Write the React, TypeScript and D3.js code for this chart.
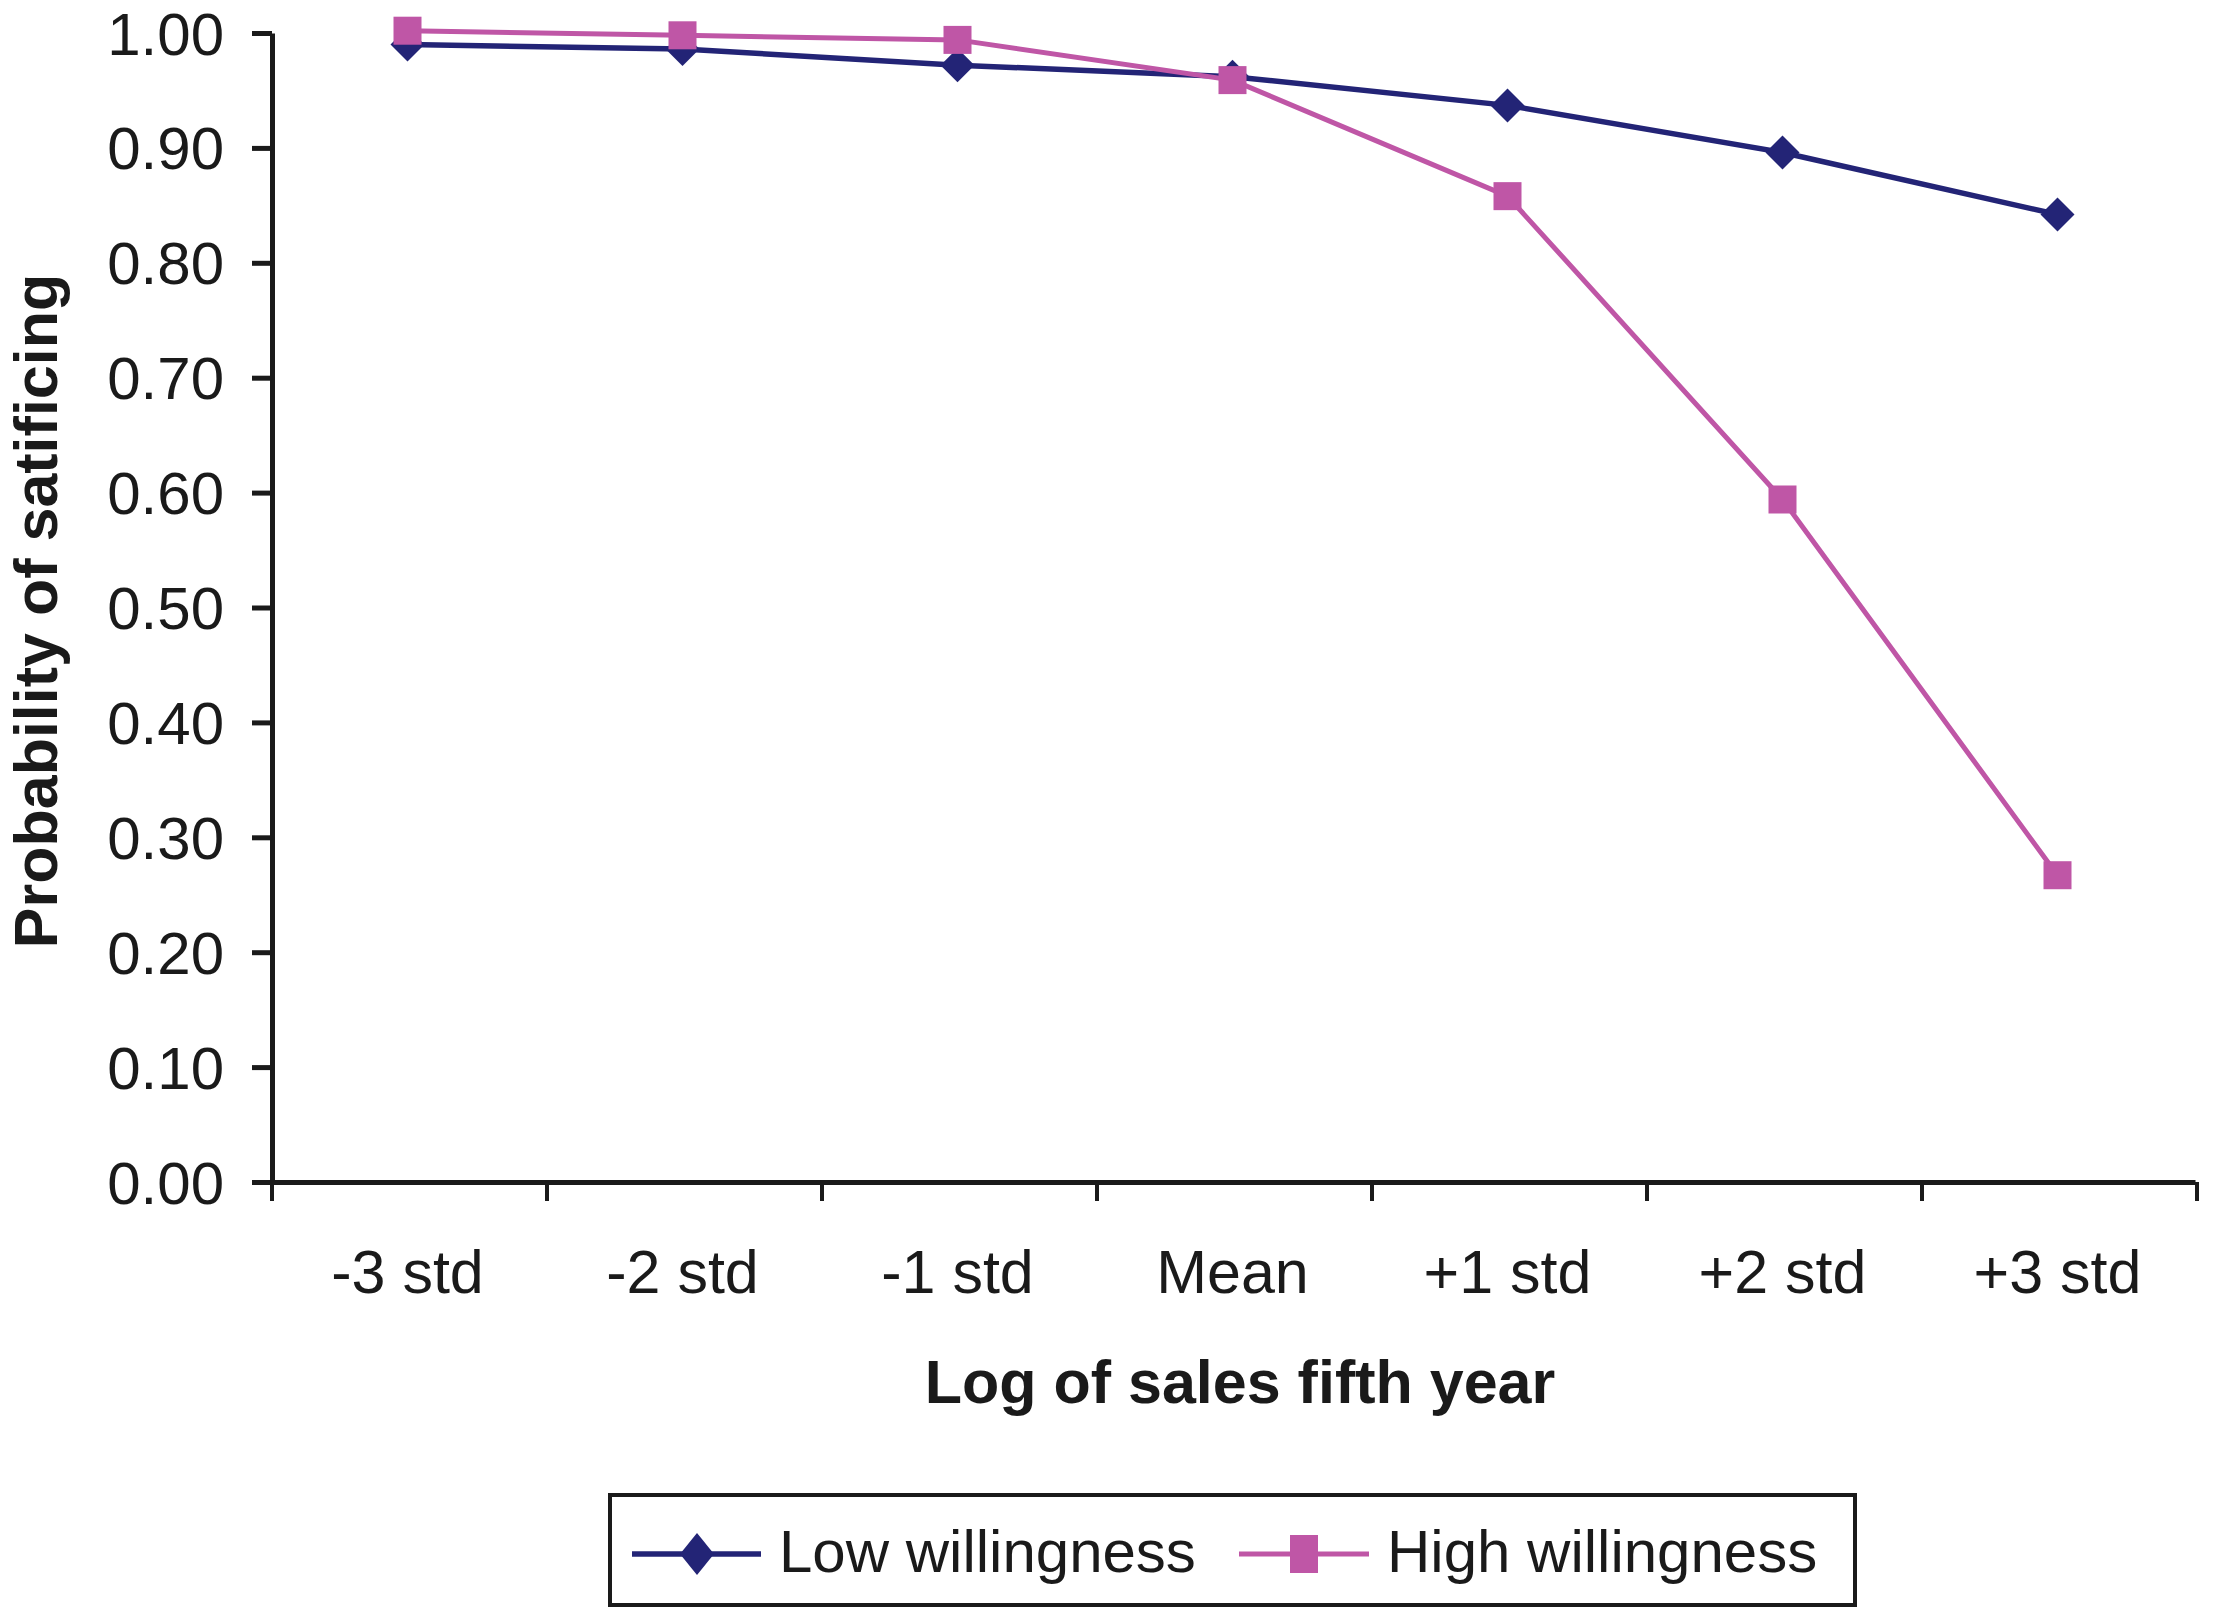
import React, { useEffect, useRef } from 'react';
import * as d3 from 'd3';

const categories = ['-3 std', '-2 std', '-1 std', 'Mean', '+1 std', '+2 std', '+3 std'];
const lowWillingness = [0.99, 0.986, 0.972, 0.962, 0.937, 0.896, 0.842];
const highWillingness = [1.002, 0.998, 0.994, 0.959, 0.858, 0.594, 0.267];
const yTicks = [0, 0.1, 0.2, 0.3, 0.4, 0.5, 0.6, 0.7, 0.8, 0.9, 1.0];

const W = 2217;
const H = 1608;
const FONT = '"Liberation Sans", Arial, sans-serif';
const NAVY = '#232476';
const PINK = '#bf56a6';
const INK = '#1a1a1a';

const Chart: React.FC = () => {
  const ref = useRef<SVGSVGElement>(null);

  useEffect(() => {
    document.body.style.margin = '0';
    const svg = d3.select(ref.current);
    svg.html('');

    const x = d3.scaleBand().domain(categories).range([270, 2195]).padding(0);
    const y = d3.scaleLinear().domain([0, 1]).range([1182, 33]);

    // y axis
    const yAxis = svg.append('g')
      .attr('transform', 'translate(272,0)')
      .call(d3.axisLeft(y).tickValues(yTicks).tickFormat(d3.format('.2f')).tickSize(20).tickSizeOuter(0).tickPadding(28));
    yAxis.select('.domain').attr('stroke', INK).attr('stroke-width', 5);
    yAxis.selectAll('.tick line').attr('stroke', INK).attr('stroke-width', 5);
    yAxis.selectAll('.tick text')
      .attr('fill', INK)
      .attr('dy', '0.35em')
      .style('font-family', FONT)
      .style('font-size', '60px');

    // x axis
    const xAxis = svg.append('g')
      .attr('transform', `translate(0,${y(0)})`)
      .call(d3.axisBottom(x).tickSize(0).tickPadding(68));
    xAxis.select('.domain').attr('stroke', INK).attr('stroke-width', 5);
    xAxis.selectAll('.tick text')
      .attr('fill', INK)
      .style('font-family', FONT)
      .style('font-size', '61px');

    const bounds = categories.map(c => x(c)!).concat([x(categories[categories.length - 1])! + x.bandwidth()]);
    xAxis.selectAll('line.bound')
      .data(bounds)
      .enter()
      .append('line')
      .attr('class', 'bound')
      .attr('x1', d => d + 2)
      .attr('x2', d => d + 2)
      .attr('y1', 0)
      .attr('y2', 19)
      .attr('stroke', INK)
      .attr('stroke-width', 4);

    const cx = (i: number) => x(categories[i])! + x.bandwidth() / 2;
    const line = d3.line<number>().x((d, i) => cx(i)).y(d => y(d));

    // low willingness
    svg.append('path')
      .datum(lowWillingness)
      .attr('d', line)
      .attr('fill', 'none')
      .attr('stroke', NAVY)
      .attr('stroke-width', 5.5);
    svg.selectAll('path.diamond')
      .data(lowWillingness)
      .enter()
      .append('path')
      .attr('class', 'diamond')
      .attr('d', 'M0,-17L17,0L0,17L-17,0Z')
      .attr('transform', (d, i) => `translate(${cx(i)},${y(d)})`)
      .attr('fill', NAVY);

    // high willingness
    svg.append('path')
      .datum(highWillingness)
      .attr('d', line)
      .attr('fill', 'none')
      .attr('stroke', PINK)
      .attr('stroke-width', 5);
    svg.selectAll('rect.square')
      .data(highWillingness)
      .enter()
      .append('rect')
      .attr('class', 'square')
      .attr('x', (d, i) => cx(i) - 14)
      .attr('y', d => y(d) - 14)
      .attr('width', 28)
      .attr('height', 28)
      .attr('fill', PINK);

    // axis titles
    svg.append('text')
      .attr('x', 1240)
      .attr('y', 1403)
      .attr('text-anchor', 'middle')
      .attr('fill', INK)
      .style('font-family', FONT)
      .style('font-weight', 'bold')
      .style('font-size', '61px')
      .text('Log of sales fifth year');

    svg.append('text')
      .attr('transform', 'translate(57,611) rotate(-90)')
      .attr('text-anchor', 'middle')
      .attr('fill', INK)
      .style('font-family', FONT)
      .style('font-weight', 'bold')
      .style('font-size', '61px')
      .text('Probability of satificing');

    // legend
    const legend = svg.append('g');
    legend.append('rect')
      .attr('x', 610)
      .attr('y', 1495)
      .attr('width', 1245)
      .attr('height', 110)
      .attr('fill', 'none')
      .attr('stroke', INK)
      .attr('stroke-width', 4);

    const ly = 1554;
    legend.append('line')
      .attr('x1', 632).attr('x2', 761).attr('y1', ly).attr('y2', ly)
      .attr('stroke', NAVY).attr('stroke-width', 5.5);
    legend.append('path')
      .attr('d', 'M0,-21L17,0L0,21L-17,0Z')
      .attr('transform', `translate(697,${ly})`)
      .attr('fill', NAVY);
    legend.append('text')
      .attr('x', 779).attr('y', 1572)
      .attr('fill', INK)
      .style('font-family', FONT)
      .style('font-size', '60px')
      .text('Low willingness');

    legend.append('line')
      .attr('x1', 1239).attr('x2', 1369).attr('y1', ly).attr('y2', ly)
      .attr('stroke', PINK).attr('stroke-width', 5);
    legend.append('rect')
      .attr('x', 1290).attr('y', ly - 19).attr('width', 28).attr('height', 38)
      .attr('fill', PINK);
    legend.append('text')
      .attr('x', 1387).attr('y', 1572)
      .attr('fill', INK)
      .style('font-family', FONT)
      .style('font-size', '60px')
      .text('High willingness');
  }, []);

  return <svg ref={ref} width={W} height={H} style={{ display: 'block', background: '#fff' }}></svg>;
};

export default function App() {
  return <Chart />;
}
